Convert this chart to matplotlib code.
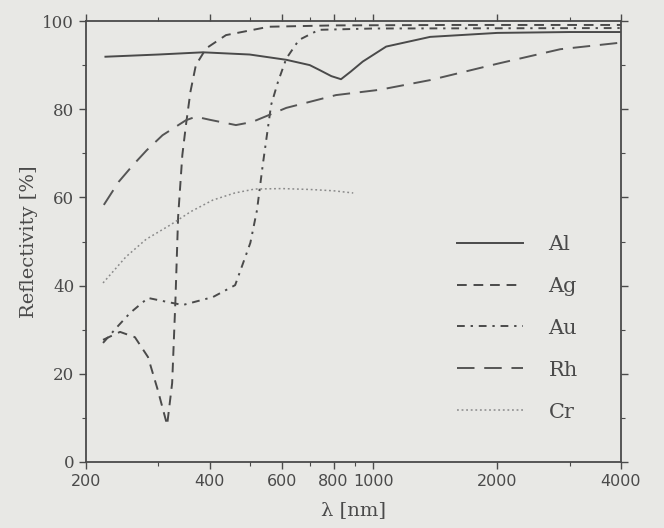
import matplotlib
matplotlib.use("Agg")
import matplotlib.pyplot as plt
from matplotlib.ticker import FixedLocator, NullFormatter

# wavelengths [nm] and reflectivity [%]
al_wl = [223, 300, 385, 500, 614, 700, 739, 790, 834, 880, 942, 1074, 1374, 2000, 3000, 4000]
al_r = [91.9, 92.4, 92.9, 92.4, 91.2, 90.0, 88.9, 87.5, 86.8, 88.5, 90.8, 94.2, 96.4, 97.3, 97.5, 97.5]

ag_wl = [220, 242, 263, 283, 299, 315, 324, 330, 335, 343, 350, 359, 370, 392, 438, 557, 800, 1500, 4000]
ag_r = [27.7, 29.5, 28.3, 23.8, 16.3, 8.4, 17.9, 36.7, 55.6, 69.6, 76.4, 84.0, 90.0, 93.8, 96.8, 98.7, 99.0, 99.1, 99.1]

au_wl = [220, 238, 256, 283, 315, 344, 407, 461, 482, 502, 521, 538, 564, 586, 614, 659, 737, 1000, 4000]
au_r = [27.0, 30.6, 33.8, 37.2, 36.3, 35.6, 37.4, 40.1, 45.1, 49.7, 57.1, 67.3, 81.0, 86.2, 91.5, 95.7, 98.0, 98.3, 98.4]

rh_wl = [221, 240, 260, 281, 307, 350, 370, 400, 463, 507, 614, 811, 1035, 1374, 2000, 2846, 4000]
rh_r = [58.3, 63.5, 67.3, 70.7, 74.1, 77.5, 78.3, 77.6, 76.4, 77.1, 80.3, 83.2, 84.4, 86.6, 90.3, 93.6, 95.1]

cr_wl = [220, 250, 280, 320, 360, 407, 460, 515, 600, 700, 800, 893]
cr_r = [40.6, 46.5, 50.5, 53.7, 56.8, 59.4, 61.0, 61.9, 62.0, 61.8, 61.5, 61.0]

x_major = [200, 400, 600, 800, 1000, 2000, 4000]
x_labels = ["200", "400", "600", "800", "1000", "2000", "4000"]
x_minor = [300, 500, 700, 900, 3000]
y_major = [0, 20, 40, 60, 80, 100]

bg = "#e8e8e5"
ink = "#4a4a4a"

fig = plt.figure(figsize=(6.64, 5.28), dpi=100, facecolor=bg)
ax = fig.add_axes([86/664, 66/528, 535/664, 441/528], facecolor=bg)

lw = 1.4
ax.plot(al_wl, al_r, color=ink, lw=lw, ls="-", label="Al")
ax.plot(ag_wl, ag_r, color=ink, lw=lw, ls=(0, (5, 3.5)), label="Ag")
ax.plot(au_wl, au_r, color=ink, lw=lw, ls=(0, (4, 3, 1.2, 3)), label="Au")
ax.plot(rh_wl, rh_r, color="#555555", lw=lw, ls=(0, (9, 5)), label="Rh")
ax.plot(cr_wl, cr_r, color="#8a8a8a", lw=1.1, ls=(0, (1.2, 1.8)), label="Cr")

ax.set_xscale("log")
ax.set_xlim(200, 4000)
ax.set_ylim(0, 100)
ax.xaxis.set_major_locator(FixedLocator(x_major))
ax.xaxis.set_minor_locator(FixedLocator(x_minor))
ax.xaxis.set_minor_formatter(NullFormatter())
ax.set_xticklabels(x_labels)
ax.set_yticks(y_major)
ax.set_yticks(range(0, 101, 10), minor=True)

for s in ax.spines.values():
    s.set_color(ink)
    s.set_linewidth(1.3)

ax.tick_params(which="both", direction="out", color=ink, top=True, right=True,
               labelcolor=ink)
ax.tick_params(which="major", length=5, width=1.0)
ax.tick_params(which="minor", length=3, width=0.8)
for lab in ax.get_xticklabels():
    lab.set_fontfamily("DejaVu Sans")
    lab.set_fontsize(11.5)
for lab in ax.get_yticklabels():
    lab.set_fontfamily("DejaVu Serif")
    lab.set_fontsize(12)

ax.set_xlabel("λ [nm]", fontsize=14, family="DejaVu Serif", color=ink, labelpad=9)
ax.set_ylabel("Reflectivity [%]", fontsize=14, family="DejaVu Serif", color=ink, labelpad=3)

leg = ax.legend(loc="upper left", bbox_to_anchor=(0.693, 0.515), frameon=False,
                borderpad=0, borderaxespad=0, handlelength=3.2, handletextpad=1.2,
                labelspacing=1.1, prop={"family": "DejaVu Serif", "size": 15})
for t in leg.get_texts():
    t.set_color(ink)

fig.savefig("out.png", dpi=100, facecolor=bg)
